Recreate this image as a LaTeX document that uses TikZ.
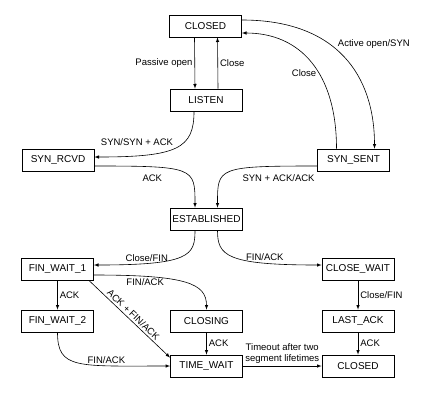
\documentclass[tikz,border=0pt]{standalone}
\usepackage{fontspec}
\setmainfont{Liberation Sans}

\tikzset{
    state/.style={draw, line width=0.8pt, minimum width=72pt, minimum height=22pt,
        inner sep=0pt, font=\fontsize{10}{12}\selectfont},
    lbl/.style={font=\fontsize{9.5}{11}\selectfont, inner sep=2pt},
}

\begin{document}
\begin{tikzpicture}[x=1pt, y=1pt]

\useasboundingbox (0, 0) rectangle (443, -402);

% states
\node[state] (closed)   at (205.5, -26)  {CLOSED};
\node[state] (listen)   at (206, -100)   {LISTEN};
\node[state] (synrcvd)  at (58, -160)    {SYN\_RCVD};
\node[state] (synsent)  at (353.5, -160) {SYN\_SENT};
\node[state] (estab)    at (206.5, -219) {ESTABLISHED};
\node[state] (finwaitA) at (57.5, -269)  {FIN\_WAIT\_1};
\node[state] (closewait) at (358, -269)  {CLOSE\_WAIT};
\node[state] (finwaitB) at (57.5, -321)  {FIN\_WAIT\_2};
\node[state] (closing)  at (206.5, -321) {CLOSING};
\node[state] (lastack)  at (358, -321)   {LAST\_ACK};
\node[state] (timewait) at (206.5, -366) {TIME\_WAIT};
\node[state] (closedB)  at (358, -366)   {CLOSED};


% opening
\begin{scope}[-latex, line width=0.6pt]
    \draw ([xshift=-11pt]closed.south) -- ([xshift=-11pt]listen.north)
        node[lbl, midway, left]{Passive open};
    \draw ([xshift=12pt]listen.north) -- ([xshift=12pt]closed.south)
        node[lbl, midway, right]{Close};
    \draw ([yshift=6pt]closed.east)
        .. controls +(95, 0) and +(0, 73) .. ([xshift=21pt]synsent.north)
        node[lbl, pos=0.4, right=6pt]{Active open/SYN};
    \draw ([xshift=-17pt]synsent.north)
        .. controls +(0, 75) and +(59, 0) .. ([yshift=-7pt]closed.east)
        node[lbl, pos=0.42, left]{Close};
    \draw ([xshift=-12pt]listen.south)
        .. controls +(0, -37) and +(83, 0) .. ([yshift=3pt]synrcvd.east)
        node[lbl, pos=0.5, above left]{SYN/SYN + ACK};
    \draw ([yshift=-6pt]synrcvd.east)
        .. controls +(100, 0) and +(0, 40) .. ([xshift=-11.5pt]estab.north)
        node[lbl, pos=0.25, below=6pt]{ACK};
    \draw ([yshift=-6pt]synsent.west)
        .. controls +(-100, 0) and +(0, 40) .. ([xshift=11pt]estab.north)
        node[lbl, pos=0.15, below=6pt]{SYN + ACK/ACK};
\end{scope}


% closing
\begin{scope}[-latex, line width=0.6pt]
    \draw ([xshift=-11.5pt]estab.south)
        .. controls +(0, -25) and +(96, 0) .. ([yshift=4pt]finwaitA.east)
        node[lbl, pos=0.77, above]{Close/FIN};
    \draw ([xshift=11pt]estab.south)
        .. controls +(0, -25) and +(-96, 0) .. ([yshift=4pt]closewait.west)
        node[lbl, pos=0.75, above]{FIN/ACK};
    \draw ([yshift=-6pt]finwaitA.east)
        .. controls +(93, 0) and +(0, 26) .. (closing.north)
        node[lbl, pos=0.22, below]{FIN/ACK};
    \draw (finwaitA.south) -- (finwaitB.north)
        node[lbl, midway, right]{ACK};
    \draw ([xshift=-5pt]finwaitA.south east) -- ([yshift=-3pt]timewait.north west)
        node[lbl, midway, sloped, above]{ACK + FIN/ACK};
    \draw (finwaitB.south)
        .. controls +(0, -37) and +(-93, 0) .. (timewait.west)
        node[lbl, pos=0.71, above]{FIN/ACK};
    \draw (closing.south) -- (timewait.north)
        node[lbl, midway, right]{ACK};
    \draw (closewait.south) -- (lastack.north)
        node[lbl, midway, right]{Close/FIN};
    \draw (lastack.south) -- (closedB.north)
        node[lbl, midway, right]{ACK};
    \draw (timewait.east) -- (closedB.west)
        node[lbl, midway, above, align=center]{Timeout after two\\segment lifetimes};
\end{scope}

\end{tikzpicture}
\end{document}
